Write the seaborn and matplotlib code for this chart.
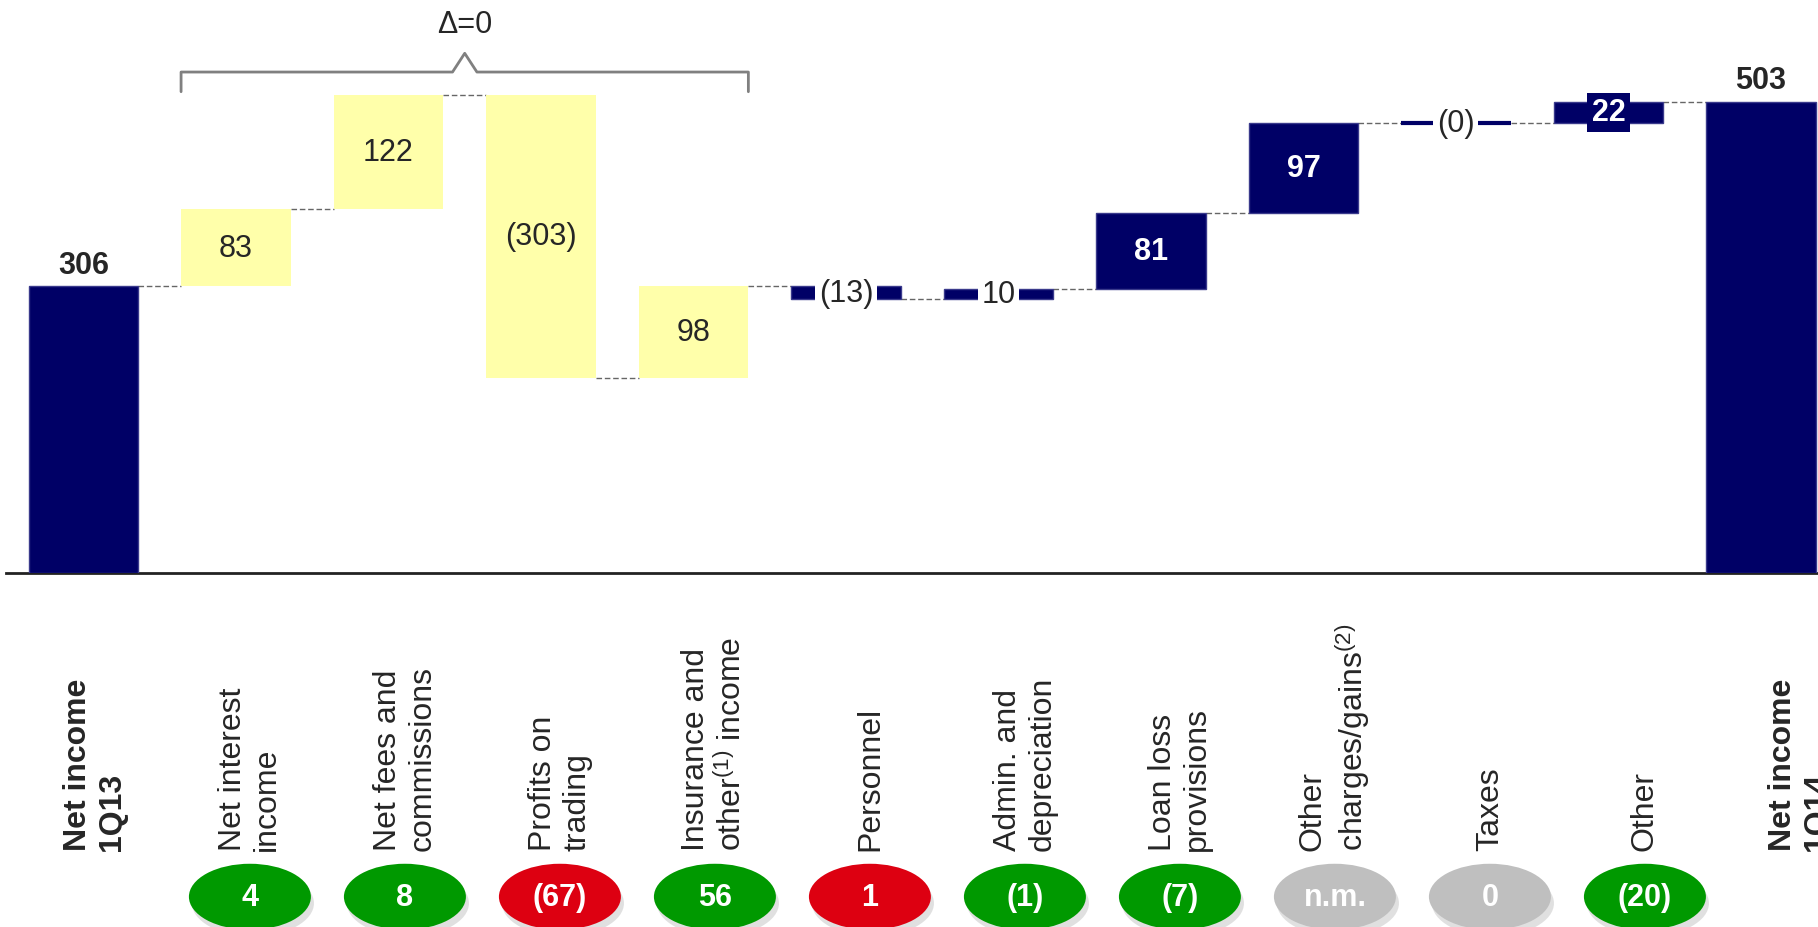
import numpy as np
import pandas as pd
import seaborn as sns
import matplotlib.pyplot as plt
from matplotlib.patches import Ellipse
from matplotlib.transforms import blended_transform_factory

# values
categories = ["Net income\n1Q13", "Net interest\nincome", "Net fees and\ncommissions",
              "Profits on\ntrading", "Insurance and\nother$^{(1)}$ income", "Personnel",
              "Admin. and\ndepreciation", "Loan loss\nprovisions",
              "Other\ncharges/gains$^{(2)}$", "Taxes", "Other", "Net income\n1Q14"]
start_value = 306
end_value = 503
deltas = [83, 122, -303, 98, -13, 10, 81, 97, 0, 22]
value_labels = ["306", "83", "122", "(303)", "98", "(13)", "10", "81", "97", "(0)", "22", "503"]
bar_colors = ["#000066"] + ["#FFFFAA"] * 4 + ["#000066"] * 7
yoy_labels = ["4", "8", "(67)", "56", "1", "(1)", "(7)", "n.m.", "0", "(20)"]
yoy_colors = ["#009900", "#009900", "#DD0011", "#009900", "#DD0011",
              "#009900", "#009900", "#BFBFBF", "#BFBFBF", "#009900"]
bracket_label = "\u0394=0"

sns.set_style("white")
plt.rcParams["font.family"] = ["Liberation Sans", "DejaVu Sans"]
plt.rcParams["mathtext.fontset"] = "custom"
plt.rcParams["mathtext.rm"] = "Liberation Sans"
plt.rcParams["mathtext.default"] = "regular"

# running totals -> floating bars
levels = [start_value] + list(start_value + np.cumsum(deltas))
lows, highs = [0], [start_value]
for i in range(1, len(levels)):
    lows.append(min(levels[i - 1], levels[i]))
    highs.append(max(levels[i - 1], levels[i]))
lows.append(0)
highs.append(end_value)

df = pd.DataFrame({"key": [f"c{i}" for i in range(len(categories))],
                   "height": np.array(highs) - np.array(lows)})

fig = plt.figure(figsize=(18.18, 9.28), dpi=100)
ax = fig.add_axes([6 / 1818, 0.3815, 1 - 6 / 1818, 0.6185])
w = 0.72
sns.barplot(data=df, x="key", y="height", hue="key", palette=bar_colors, legend=False,
            width=w, saturation=1, ax=ax, zorder=3)

for i, p in enumerate(ax.patches):
    p.set_y(lows[i])
    if bar_colors[i] == "#000066":
        p.set_edgecolor("#3a3a8c")
        p.set_linewidth(1)
        if df["height"][i] == 0:
            p.set_edgecolor("#000066")
            p.set_linewidth(3)
    else:
        p.set_linewidth(0)

# dashed connectors
for i in range(len(levels)):
    ax.plot([i + w / 2, i + 1 - w / 2], [levels[i], levels[i]], color="#666666",
            lw=1, ls=(0, (4, 2)), zorder=1)

# value labels
px_per_unit = 0.936
for i, txt in enumerate(value_labels):
    h = df["height"][i]
    mid = (lows[i] + highs[i]) / 2
    if i in (0, len(value_labels) - 1):
        ax.annotate(txt, (i, highs[i]), xytext=(0, 5), textcoords="offset points",
                    ha="center", va="bottom", fontsize=22, fontweight="bold", zorder=5)
    elif bar_colors[i] != "#000066":
        ax.text(i, mid, txt, ha="center", va="center", fontsize=22, zorder=5)
    elif h * px_per_unit < 15:
        ax.text(i, mid, txt, ha="center", va="center", fontsize=22, zorder=5,
                bbox=dict(boxstyle="square,pad=0.12", fc="white", ec="none"))
    elif h * px_per_unit < 30:
        ax.text(i, mid, txt, ha="center", va="center", fontsize=22, fontweight="bold",
                color="white", zorder=5,
                bbox=dict(boxstyle="square,pad=0.15", fc="#000066", ec="none"))
    else:
        ax.text(i, mid, txt, ha="center", va="center", fontsize=22, fontweight="bold",
                color="white", zorder=5)

# bracket over the revenue items
x0, x1 = 1 - w / 2, 4 + w / 2
xm = (x0 + x1) / 2
ax.plot([x0, x0, xm - 0.08, xm, xm + 0.08, x1, x1],
        [514, 535, 535, 555, 535, 535, 514], color="#808080", lw=2, clip_on=False)
ax.text(xm, 586, bracket_label, ha="center", va="center", fontsize=22)

ax.set_xlim(-0.508, 11.374)
ax.set_ylim(0, 613)
ax.set_xticks([])
ax.set_yticks([])
ax.set_xlabel("")
ax.set_ylabel("")
for s in ["top", "left", "right"]:
    ax.spines[s].set_visible(False)
ax.spines["bottom"].set_color("#222222")
ax.spines["bottom"].set_linewidth(2)

# category labels and year-on-year bubbles
trans = blended_transform_factory(ax.transData, fig.transFigure)
for i, lab in enumerate(categories):
    x = i * 1.0164 + 0.075
    bold = i in (0, len(categories) - 1)
    ax.text(x, 0.083, lab, transform=trans, rotation=90, ha="center", va="bottom",
            multialignment="left", fontsize=23, fontweight="bold" if bold else "normal",
            clip_on=False)

for k, (txt, col) in enumerate(zip(yoy_labels, yoy_colors)):
    x = (k + 1) * 1.0164 + 0.075
    shadow = Ellipse((x + 0.02, 0.0326 - 0.007), 0.8, 0.0711, transform=trans,
                     fc="#9a9a9a", ec="none", alpha=0.3, clip_on=False, zorder=1)
    ax.add_artist(shadow)
    bubble = Ellipse((x, 0.0326), 0.8, 0.0711, transform=trans, fc=col, ec="none",
                     clip_on=False, zorder=2)
    ax.add_artist(bubble)
    ax.text(x, 0.0326, txt, transform=trans, ha="center", va="center", color="white",
            fontsize=22, fontweight="bold", family=["Liberation Sans Narrow", "Liberation Sans"],
            clip_on=False, zorder=3)

fig.savefig("out.png", dpi=100)
